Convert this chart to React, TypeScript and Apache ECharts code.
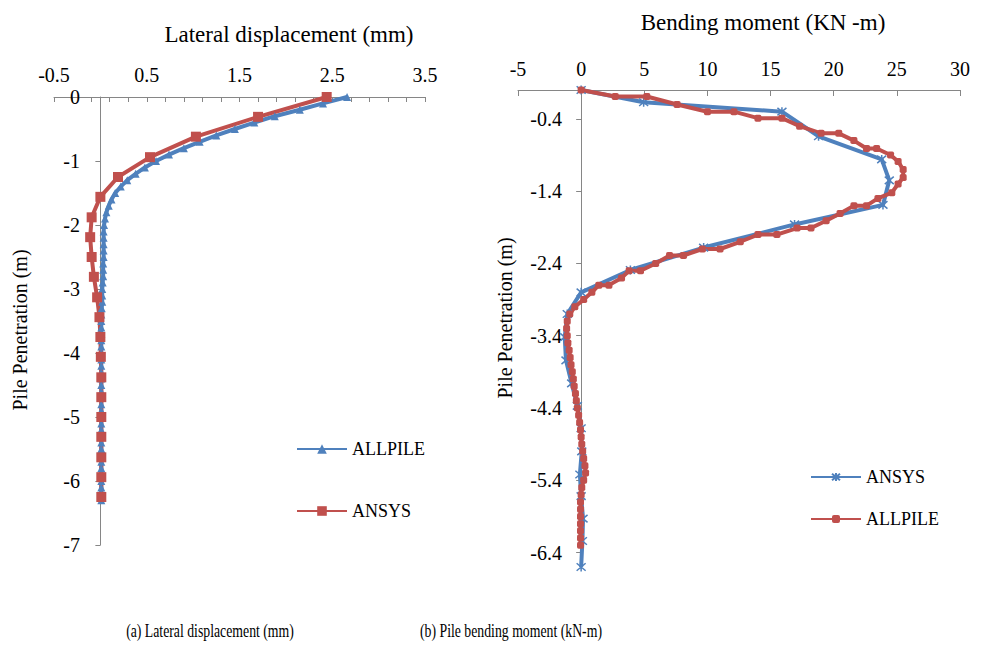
import React, { useEffect, useRef } from "react";
import * as echarts from "echarts";

const FONT = "'Liberation Serif', 'Times New Roman', serif";
const BLUE = "#4F81BD";
const RED = "#C0504D";
const AXIS = "#868686";

// ---------- (a) Lateral displacement ----------
const dispAxisLabels = [-0.5, 0.5, 1.5, 2.5, 3.5];
const dispMinorTicks = [-0.5, -0.3, -0.1, 0.1, 0.3, 0.5, 0.7, 0.9, 1.1, 1.3, 1.5, 1.7, 1.9, 2.1, 2.3, 2.5, 2.7, 2.9, 3.1, 3.3, 3.5];

const allpileDispDepth = [
  0, -0.1, -0.2, -0.3, -0.4, -0.5, -0.6, -0.7, -0.8, -0.9,
  -1.0, -1.1, -1.2, -1.3, -1.4, -1.5, -1.6, -1.7, -1.8, -1.9,
  -2.0, -2.1, -2.2, -2.3, -2.4, -2.5, -2.6, -2.7, -2.8, -2.9,
  -3.0, -3.1, -3.2, -3.3, -3.4, -3.5, -3.6, -3.7, -3.8, -3.9,
  -4.0, -4.1, -4.2, -4.3, -4.4, -4.5, -4.6, -4.7, -4.8, -4.9,
  -5.0, -5.1, -5.2, -5.3, -5.4, -5.5, -5.6, -5.7, -5.8, -5.9,
  -6.0, -6.1, -6.2, -6.3,
];
const allpileDisp = [
  2.66, 2.4, 2.15, 1.88, 1.66, 1.45, 1.25, 1.07, 0.9, 0.74,
  0.6, 0.48, 0.38, 0.29, 0.22, 0.16, 0.12, 0.09, 0.065, 0.05,
  0.04, 0.035, 0.035, 0.035, 0.035, 0.035, 0.03, 0.03, 0.03, 0.025,
  0.02, 0.02, 0.02, 0.015, 0.01, 0.01, 0.01, 0.01, 0.01, 0.01,
  0.01, 0.01, 0.01, 0.01, 0.01, 0.01, 0.01, 0.01, 0.01, 0.01,
  0.01, 0.01, 0.01, 0.01, 0.01, 0.01, 0.01, 0.01, 0.01, 0.01,
  0.01, 0.01, 0.01, 0.01,
];

const ansysDispDepth = [
  0, -0.31, -0.62, -0.94, -1.25, -1.56, -1.88, -2.19, -2.5, -2.81,
  -3.13, -3.44, -3.75, -4.06, -4.38, -4.69, -5.0, -5.31, -5.63, -5.94, -6.25,
];
const ansysDisp = [
  2.44, 1.7, 1.03, 0.535, 0.19, 0.0, -0.094, -0.11, -0.094, -0.07,
  -0.035, -0.01, 0.0, 0.005, 0.01, 0.01, 0.01, 0.01, 0.01, 0.01, 0.01,
];

// ---------- (b) Bending moment ----------
const depthLabelsB = [-0.4, -1.4, -2.4, -3.4, -4.4, -5.4, -6.4];

const ansysMoment = [
  0, 4.95, 15.9, 18.8, 23.8, 24.4, 23.9, 16.9, 9.7, 3.9,
  0, -1.1, -1.3, -1.2, -0.75, -0.3, 0, 0.05, -0.1, 0, 0.15, 0.1, 0,
];
const ansysMomentDepth = [
  0, -0.17, -0.3, -0.64, -0.96, -1.25, -1.59, -1.86, -2.18, -2.49,
  -2.8, -3.1, -3.42, -3.74, -4.06, -4.37, -4.68, -5.0, -5.32, -5.62, -5.93, -6.24, -6.6,
];

const allpileMoment = [
  0, 2.7, 5.2, 7.6, 10.0, 12.1, 14.0, 15.9, 17.3, 19.0,
  20.4, 21.6, 22.6, 23.4, 24.5, 25.1, 25.5, 25.5, 25.1, 24.6,
  23.5, 22.6, 21.6, 20.5, 19.4, 18.2, 17.1, 15.5, 14.0, 12.6,
  11.0, 9.6, 8.1, 7.0, 5.9, 4.7, 3.8, 3.2, 2.2, 1.4,
  0.85, 0.2, -0.5, -0.9, -1.1, -1.15, -1.1, -1.05, -0.95, -0.87,
  -0.8, -0.7, -0.62, -0.55, -0.45, -0.38, -0.3, -0.2, -0.12, -0.05,
  0.0, 0.05, 0.12, 0.2, 0.3, 0.35, 0.2, 0.05, 0.0, -0.05,
  -0.05, -0.05, -0.05, -0.05, -0.05, -0.05,
];
const allpileMomentDepth = [
  0, -0.09, -0.09, -0.2, -0.3, -0.3, -0.39, -0.39, -0.5, -0.6,
  -0.6, -0.7, -0.81, -0.81, -0.9, -0.99, -1.1, -1.21, -1.3, -1.42,
  -1.5, -1.6, -1.6, -1.71, -1.81, -1.91, -1.91, -2.0, -2.0, -2.1,
  -2.2, -2.2, -2.29, -2.29, -2.4, -2.5, -2.5, -2.6, -2.7, -2.7,
  -2.8, -2.9, -3.0, -3.1, -3.2, -3.3, -3.4, -3.5, -3.6, -3.7,
  -3.8, -3.9, -4.0, -4.1, -4.2, -4.3, -4.4, -4.5, -4.6, -4.7,
  -4.8, -4.9, -5.0, -5.1, -5.2, -5.3, -5.4, -5.5, -5.6, -5.7,
  -5.8, -5.9, -6.0, -6.1, -6.2, -6.3,
];

const zip = (xs: number[], ys: number[]) => xs.map((x, i) => [x, ys[i]]);

const ASTERISK = "path://M0,0L10,10M10,0L0,10M5,-1L5,11";

const labelStyle = { fontFamily: FONT, fontSize: 20, color: "#000" };

export default function App() {
  const ref = useRef<HTMLDivElement>(null);
  useEffect(() => {
    if (!ref.current) return;
    const chart = echarts.init(ref.current, null, { renderer: "svg" });
    const option: any = {
      animation: false,
      backgroundColor: "#fff",
      grid: [
        { left: 54, top: 97, width: 371, height: 448, containLabel: false },
        { left: 518, top: 90, width: 442, height: 477, containLabel: false },
      ],
      xAxis: [
        {
          type: "value",
          gridIndex: 0,
          position: "top",
          min: -0.5,
          max: 3.5,
          axisLine: { show: true, onZero: true, lineStyle: { color: AXIS, width: 1 } },
          axisTick: { show: true, inside: true, length: 5, customValues: dispMinorTicks, lineStyle: { color: AXIS } },
          axisLabel: { ...labelStyle, margin: 12, customValues: dispAxisLabels },
          splitLine: { show: false },
        },
        {
          type: "value",
          gridIndex: 1,
          position: "top",
          min: -5,
          max: 30,
          interval: 5,
          axisLine: { show: true, onZero: true, lineStyle: { color: AXIS, width: 1 } },
          axisTick: { show: true, inside: true, length: 6, lineStyle: { color: AXIS } },
          axisLabel: { ...labelStyle, margin: 11 },
          splitLine: { show: false },
        },
      ],
      yAxis: [
        {
          type: "value",
          gridIndex: 0,
          min: -7,
          max: 0,
          interval: 1,
          axisLine: { show: true, onZero: true, lineStyle: { color: AXIS, width: 1 } },
          axisTick: { show: true, inside: false, length: 5, lineStyle: { color: AXIS } },
          axisLabel: { ...labelStyle, margin: -26 },
          splitLine: { show: false },
        },
        {
          type: "value",
          gridIndex: 1,
          min: -6.6,
          max: 0,
          axisLine: { show: true, onZero: true, lineStyle: { color: AXIS, width: 1 } },
          axisTick: { show: true, inside: false, length: 5, customValues: depthLabelsB, lineStyle: { color: AXIS } },
          axisLabel: { ...labelStyle, margin: -44, customValues: depthLabelsB },
          splitLine: { show: false },
        },
      ],
      legend: [
        {
          orient: "vertical",
          left: 291,
          top: 434,
          itemWidth: 50,
          itemHeight: 12,
          itemGap: 42,
          data: ["ALLPILE (a)", "ANSYS (a)"],
          formatter: (n: string) => n.replace(/ \([ab]\)$/, ""),
          textStyle: { fontFamily: FONT, fontSize: 18, color: "#000", lineHeight: 20 },
          selectedMode: false,
        },
        {
          orient: "vertical",
          left: 805,
          top: 462,
          itemWidth: 50,
          itemHeight: 10,
          itemGap: 22,
          data: ["ANSYS (b)", "ALLPILE (b)"],
          formatter: (n: string) => n.replace(/ \([ab]\)$/, ""),
          textStyle: { fontFamily: FONT, fontSize: 18, color: "#000", lineHeight: 20 },
          selectedMode: false,
        },
      ],
      series: [
        {
          name: "ALLPILE (a)",
          type: "line",
          xAxisIndex: 0,
          yAxisIndex: 0,
          data: zip(allpileDisp, allpileDispDepth),
          symbol: "triangle",
          symbolSize: 8,
          lineStyle: { color: BLUE, width: 4 },
          itemStyle: { color: BLUE, borderWidth: 0 },
          clip: false,
        },
        {
          name: "ANSYS (a)",
          type: "line",
          xAxisIndex: 0,
          yAxisIndex: 0,
          data: zip(ansysDisp, ansysDispDepth),
          symbol: "rect",
          symbolSize: 10,
          lineStyle: { color: RED, width: 4 },
          itemStyle: { color: RED, borderWidth: 0 },
          clip: false,
        },
        {
          name: "ANSYS (b)",
          type: "line",
          xAxisIndex: 1,
          yAxisIndex: 1,
          data: zip(ansysMoment, ansysMomentDepth),
          symbol: ASTERISK,
          symbolSize: 9,
          lineStyle: { color: BLUE, width: 4 },
          itemStyle: { color: BLUE, borderColor: BLUE, borderWidth: 1.5 },
          clip: false,
        },
        {
          name: "ALLPILE (b)",
          type: "line",
          xAxisIndex: 1,
          yAxisIndex: 1,
          data: zip(allpileMoment, allpileMomentDepth),
          symbol: "roundRect",
          symbolSize: 7,
          lineStyle: { color: RED, width: 4 },
          itemStyle: { color: RED, borderWidth: 0 },
          clip: false,
        },
      ],
      graphic: [
        {
          type: "text", x: 289, y: 34,
          style: { text: "Lateral displacement (mm)", fontFamily: FONT, fontSize: 23, fill: "#000", align: "center", verticalAlign: "middle" },
        },
        {
          type: "text", x: 763, y: 22,
          style: { text: "Bending moment (KN -m)", fontFamily: FONT, fontSize: 23, fill: "#000", align: "center", verticalAlign: "middle" },
        },
        {
          type: "text", x: 20, y: 330, rotation: Math.PI / 2,
          style: { text: "Pile Penetration (m)", fontFamily: FONT, fontSize: 20, fill: "#000", align: "center", verticalAlign: "middle" },
        },
        {
          type: "text", x: 505, y: 318, rotation: Math.PI / 2,
          style: { text: "Pile Penetration (m)", fontFamily: FONT, fontSize: 20, fill: "#000", align: "center", verticalAlign: "middle" },
        },
        {
          type: "text", x: 210, y: 631, scaleX: 0.765,
          style: { text: "(a) Lateral displacement (mm)", fontFamily: FONT, fontSize: 18, fill: "#000", align: "center", verticalAlign: "middle" },
        },
        {
          type: "text", x: 511, y: 631, scaleX: 0.765,
          style: { text: "(b) Pile bending moment (kN-m)", fontFamily: FONT, fontSize: 18, fill: "#000", align: "center", verticalAlign: "middle" },
        },
      ],
    };
    chart.setOption(option);
    return () => chart.dispose();
  }, []);
  return (
    <div
      ref={ref}
      style={{ position: "fixed", left: 0, top: 0, width: 984, height: 647, background: "#fff" }}
    />
  );
}
